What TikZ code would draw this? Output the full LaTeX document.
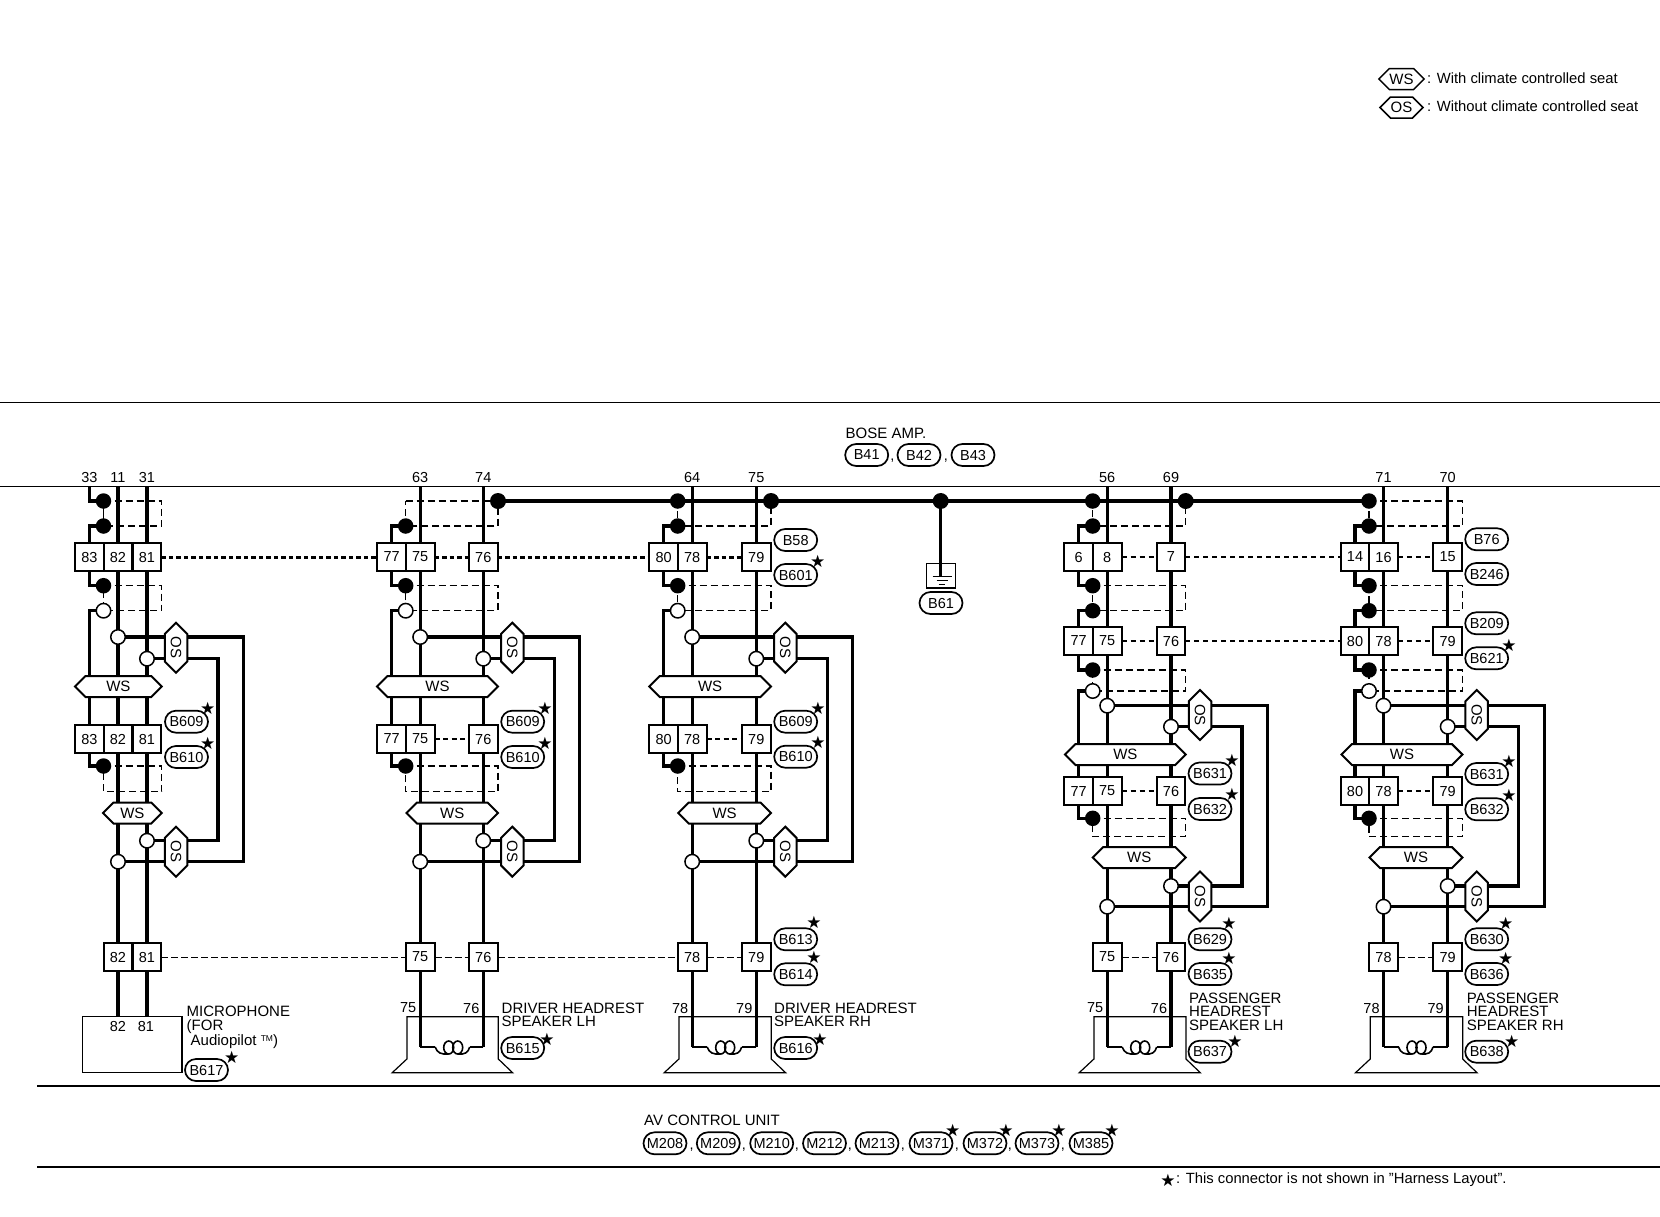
\documentclass[tikz,border=0pt]{standalone}
\usepackage{fontspec}
\setmainfont{Liberation Sans}
\newfontfamily\symfont{DejaVu Sans}
\usetikzlibrary{shapes.misc,shapes.symbols}
\pgfdeclarelayer{bg}\pgfsetlayers{bg,main}
\tikzset{
  wire/.style={line width=3.2pt,line join=miter},
  shield/.style={line width=1.5pt,dash pattern=on 7pt off 4pt},
  hairline/.style={line width=1.2pt},
  rule/.style={line width=0.9pt},
  dotthick/.style={line width=3pt,dash pattern=on 4.5pt off 3pt},
  dotmid/.style={line width=2.2pt,dash pattern=on 5pt off 3.5pt},
  dotthin/.style={line width=1.6pt,dash pattern=on 5pt off 4pt},
  dotfine/.style={line width=1pt,dash pattern=on 7pt off 3pt},
  bdot/.style={circle,fill=black,inner sep=0pt,minimum size=15.5pt},
  bigdot/.style={circle,fill=black,inner sep=0pt,minimum size=16pt},
  wdot/.style={circle,draw,fill=white,line width=1.5pt,inner sep=0pt,minimum size=14.5pt},
  hiddenpt/.style={coordinate},
  cell/.style={rectangle,draw,fill=white,line width=2pt,inner sep=0pt,outer sep=0pt,minimum width=28.6pt,minimum height=28pt,font=\fontsize{14.5}{14.5}\selectfont},
  hexws/.style={signal,signal to=west and east,signal pointer angle=90,draw,fill=white,line width=2pt,inner sep=0pt,outer sep=0pt,minimum height=21pt,font=\fontsize{15}{15}\selectfont},
  hexos/.style={hexws,rotate=-90,minimum width=50pt,minimum height=22.5pt},
  hexleg/.style={hexws,line width=1.5pt,minimum width=43pt,minimum height=21pt},
  badge/.style={rounded rectangle,draw,fill=white,line width=1.7pt,inner sep=0pt,minimum width=43pt,minimum height=22pt,font=\fontsize{14.5}{14.5}\selectfont},
  starmark/.style={inner sep=0pt,font=\symfont\fontsize{17}{17}\selectfont},
  num/.style={inner sep=0pt,font=\fontsize{14.5}{14.5}\selectfont},
  lbl/.style={inner sep=0pt,anchor=base west,font=\fontsize{15}{15}\selectfont},
  leg/.style={inner sep=0pt,anchor=west,font=\fontsize{14.8}{14.8}\selectfont},
}
\newcommand\setblock[3]{\def\bP{#1}\def\bL{#2}\def\bR{#3}%
  \pgfmathsetmacro\bM{#2+28.5}\pgfmathsetmacro\bD{#2+14}\pgfmathsetmacro\bE{#3+14.7}%
  \pgfmathsetmacro\bO{#3+29}\pgfmathsetmacro\bI{#3+71}\pgfmathsetmacro\bU{#3+96.5}}
\newcommand\shieldpair[6]{%
  \node[#3] (\bP-#1) at (\bD,#2) {};
  \node[#6] (\bP-#4) at (\bD,#5) {};
  \coordinate (\bP-#1e) at (\bE,#2);
  \coordinate (\bP-#4e) at (\bE,#5);
  \begin{pgfonlayer}{bg}
  \draw[shield] (\bP-#1.center) -- (\bP-#1e) -- (\bP-#4e) -- (\bP-#4.center) -- cycle;
  \end{pgfonlayer}}
\newcommand\rowcells[5]{%
  \node[cell] (\bP-#1-L) at (\bL,#2) {#3};
  \node[cell] (\bP-#1-M) at (\bM,#2) {#4};
  \node[cell] (\bP-#1-R) at (\bR,#2) {#5};}
\newcommand\rowtwo[4]{%
  \node[cell] (\bP-#1-M) at (\bM,#2) {#3};
  \node[cell] (\bP-#1-R) at (\bR,#2) {#4};}
\newcommand\wshex[3]{%
  \pgfmathsetmacro\tmpw{\bE-#3}\pgfmathsetmacro\tmpc{(\bE+#3)/2}%
  \node[hexws,minimum width=\tmpw pt] (\bP-#1) at (\tmpc,#2) {WS};}
\newcommand\bridge[6]{%
  \node[wdot] (\bP-wm1) at (\bM,#1) {};
  \node[wdot] (\bP-wr1) at (\bR,#2) {};
  \node[hexos] (\bP-os1) at (\bO,#3) {OS};
  \node[wdot] (\bP-wm2) at (\bM,#4) {};
  \node[wdot] (\bP-wr2) at (\bR,#5) {};
  \node[hexos] (\bP-os2) at (\bO,#6) {OS};
  \coordinate (\bP-ou1) at (\bU,#1);
  \coordinate (\bP-ou2) at (\bU,#4);
  \coordinate (\bP-in1) at (\bI,#2);
  \coordinate (\bP-in2) at (\bI,#5);
  \begin{pgfonlayer}{bg}
  \draw[wire] (\bP-wm1.center) -- (\bP-ou1) -- (\bP-ou2) -- (\bP-wm2.center);
  \draw[wire] (\bP-wr1.center) -- (\bP-in1) -- (\bP-in2) -- (\bP-wr2.center);
  \end{pgfonlayer}}
\newcommand\stubs[3]{% dot above row, row, dot below row
  \begin{pgfonlayer}{bg}
  \draw[wire] (\bP-#1.center) -| (\bP-#2-L.center);
  \draw[wire] (\bP-#2-L.center) |- (\bP-#3.center);
  \end{pgfonlayer}}
\newcommand\mainwires[4]{% top labels, bottom y
  \coordinate (\bP-tM) at (\bM,486);
  \coordinate (\bP-tR) at (\bR,486);
  \coordinate (\bP-eM) at (\bM,#3);
  \coordinate (\bP-eR) at (\bR,#4);
  \node[num] (\bP-lM) at (\bM,478) {#1};
  \node[num] (\bP-lR) at (\bR,478) {#2};
  \begin{pgfonlayer}{bg}
  \draw[wire] (\bP-tM) -- (\bP-eM);
  \draw[wire] (\bP-tR) -- (\bP-eR);
  \end{pgfonlayer}}
\newcommand\speaker[2]{%
  \pgfmathsetmacro\su{\bM}\pgfmathsetmacro\sl{\bM-13.3}\pgfmathsetmacro\sr{\bR+15}%
  \node[num] (\bP-pM) at (\bM-12,1008) {#1};
  \node[num] (\bP-pR) at (\bR-12,1008) {#2};
  \draw[hairline] (\sl,1016.7) -- (\sl,1059) -- (\sl-14.7,1072.7) -- (\sr+14.3,1072.7) -- (\sr,1059) -- (\sr,1016.7) -- cycle;
  \draw[line width=2.2pt] (\bP-eM) -- (\su+15,1047);
  \draw[line width=2.2pt] (\bP-eR) -- (\su+49.5,1047);
  \draw[line width=1.6pt] (\su+15,1047) .. controls (\su+17,1053) and (\su+21,1054.5) .. (\su+28,1054);
  \draw[line width=1.6pt] (\su+38,1054) .. controls (\su+44,1054.5) and (\su+48,1053) .. (\su+49.5,1047);
  \draw[line width=1.6pt] (\su+28.5,1047.5) ellipse (5 and 6.5);
  \draw[line width=1.6pt] (\su+37.5,1047.5) ellipse (5 and 6.5);}
\newcommand\bdg[4]{\node[badge] (#1) at (#2,#3) {#4};}
\newcommand\stm[3]{\node[starmark] (#1) at (#2,#3) {★};}
\begin{document}
\begin{tikzpicture}[x=1pt,y=-1pt]
\useasboundingbox (0,0) rectangle (1660,1216);
\begin{pgfonlayer}{bg}
\fill[white] (0,0) rectangle (1660,1216);
\end{pgfonlayer}
% rules
\draw[rule] (0,402) coordinate (ruleA) -- (1660,402) coordinate (ruleB);
\draw[rule] (0,486) coordinate (ruleC) -- (1660,486) coordinate (ruleD);
\draw[line width=1.4pt] (37,1086) coordinate (ruleE) -- (1660,1086) coordinate (ruleF);
\draw[line width=2pt] (37,1167) coordinate (ruleG) -- (1660,1167) coordinate (ruleH);
% legend
\node[hexleg] (legWS) at (1401.5,79) {WS};
\node[hexleg] (legOS) at (1401.5,107.5) {OS};
\node[leg] (legT1) at (1427,78) {: With climate controlled seat};
\node[leg] (legT2) at (1427,106.5) {: Without climate controlled seat};
% Bose amp
\node[lbl] (bose) at (845.5,438) {BOSE AMP.};
\bdg{B41}{866.7}{455}{B41}
\bdg{B42}{919}{455}{B42}
\bdg{B43}{973}{455}{B43}
\node[num,anchor=base] (cmA) at (892.5,460) {,};
\node[num,anchor=base] (cmB) at (946,460) {,};
% ------------ microphone block
\setblock{mic}{89.5}{147}
\shieldpair{d1}{501}{bdot}{d2}{526}{bdot}
\rowcells{r1}{557}{83}{82}{81}
\shieldpair{d3}{585.7}{bdot}{d4}{610.7}{wdot}
\wshex{ws1}{686.5}{75}
\rowcells{r2}{739}{83}{82}{81}
\shieldpair{d5}{766}{bdot}{d6}{791.7}{hiddenpt}
\wshex{ws2}{813}{103}
\bridge{637}{658.7}{647.7}{861.7}{840.7}{851.7}
\rowtwo{r3}{957}{82}{81}
\mainwires{11}{31}{1017}{1017}
\coordinate (mic-tL) at (\bL,486);
\node[num] (mic-lL) at (\bL,478) {33};
\stubs{d2}{r1}{d3}
\stubs{d4}{r2}{d5}
\begin{pgfonlayer}{bg}
\draw[wire] (mic-tL) |- (mic-d1.center);
\draw[hairline] (mic-d1.center) -- (mic-d2.center);
\end{pgfonlayer}
\node[rectangle,draw,hairline,inner sep=0pt,minimum width=99.3pt,minimum height=56pt] (micbox) at (132.35,1044.7) {};
\node[num] (mic-pM) at (118,1026) {82};
\node[num] (mic-pR) at (146,1026) {81};
\node[lbl] (micT1) at (186.5,1016.7) {MICROPHONE};
\node[lbl] (micT2) at (186.5,1030.7) {(FOR};
\node[lbl] (micT3) at (190.5,1045) {Audiopilot \raisebox{4pt}{\fontsize{8.5}{8.5}\selectfont TM})};
\bdg{mic-B609}{186.5}{721.7}{B609}\stm{mic-s1}{207.7}{708}
\bdg{mic-B610}{186.5}{757}{B610}\stm{mic-s2}{207.7}{743}
\bdg{B617}{206.5}{1070}{B617}\stm{mic-s3}{231.7}{1057.7}
% ------------ driver LH
\setblock{b2}{391.7}{483.3}
\shieldpair{d1}{501}{hiddenpt}{d2}{526}{bdot}
\node[bigdot] (b2-dE) at (\bE,501) {};
\rowcells{r1}{557}{77}{75}{76}
\shieldpair{d3}{585.7}{bdot}{d4}{610.7}{wdot}
\wshex{ws1}{686.5}{377}
\rowcells{r2}{739}{77}{75}{76}
\shieldpair{d5}{766}{bdot}{d6}{791.7}{hiddenpt}
\wshex{ws2}{813}{406.5}
\bridge{637}{658.7}{647.7}{861.7}{840.7}{851.7}
\rowtwo{r3}{957}{75}{76}
\mainwires{63}{74}{1047}{1047}
\stubs{d2}{r1}{d3}
\stubs{d4}{r2}{d5}
\speaker{75}{76}
\bdg{b2-B609}{522.7}{721.7}{B609}\stm{b2-s1}{545}{708}
\bdg{b2-B610}{522.7}{757}{B610}\stm{b2-s2}{545}{743}
\node[lbl] (b2T1) at (501.5,1013) {DRIVER HEADREST};
\node[lbl] (b2T2) at (501.5,1026.7) {SPEAKER LH};
\bdg{B615}{522.7}{1048}{B615}\stm{b2-s3}{547}{1039}
% ------------ driver RH
\setblock{b3}{663.7}{756.3}
\shieldpair{d1}{501}{bdot}{d2}{526}{bdot}
\node[bigdot] (b3-dE) at (\bE,501) {};
\rowcells{r1}{557}{80}{78}{79}
\shieldpair{d3}{585.7}{bdot}{d4}{610.7}{wdot}
\wshex{ws1}{686.5}{649.3}
\rowcells{r2}{739}{80}{78}{79}
\shieldpair{d5}{766}{bdot}{d6}{791.7}{hiddenpt}
\wshex{ws2}{813}{678.3}
\bridge{637}{658.7}{647.7}{861.7}{840.7}{851.7}
\rowtwo{r3}{957}{78}{79}
\mainwires{64}{75}{1047}{1047}
\stubs{d2}{r1}{d3}
\stubs{d4}{r2}{d5}
\speaker{78}{79}
\bdg{B58}{795.7}{540}{B58}
\bdg{B601}{795.7}{575}{B601}\stm{b3-s0}{817.7}{561.7}
\bdg{b3-B609}{795.7}{721.7}{B609}\stm{b3-s1}{818}{708.7}
\bdg{b3-B610}{795.7}{756.7}{B610}\stm{b3-s2}{818}{742.7}
\bdg{B613}{795.7}{939.3}{B613}\stm{b3-s3}{814}{922.7}
\bdg{B614}{795.7}{974.3}{B614}\stm{b3-s4}{814}{957.7}
\node[lbl] (b3T1) at (774,1013) {DRIVER HEADREST};
\node[lbl] (b3T2) at (774,1026.7) {SPEAKER RH};
\bdg{B616}{795.7}{1048}{B616}\stm{b3-s5}{820}{1039}
% ------------ ground
\node[bigdot] (g-dot) at (940.7,501) {};
\node[rectangle,draw,line width=1.5pt,inner sep=0pt,minimum width=28.6pt,minimum height=24.7pt] (g-box) at (941,575.7) {};
\coordinate (g-e) at (940.7,576.7);
\draw[wire] (g-dot.center) -- (g-e);
\draw[line width=1.5pt] (932.7,576.7) coordinate (g-a1) -- (952.3,576.7) coordinate (g-a2);
\draw[line width=1.3pt] (936.7,580.5) coordinate (g-b1) -- (948.3,580.5) coordinate (g-b2);
\draw[line width=1pt] (938.7,584.3) coordinate (g-c1) -- (945,584.3) coordinate (g-c2);
\bdg{B61}{941}{603}{B61}
% ------------ passenger LH
\setblock{b4}{1078.7}{1171}
\shieldpair{d1}{501}{bdot}{d2}{526}{bdot}
\node[bigdot] (b4-dE) at (\bE,501) {};
\rowcells{r1}{557}{6}{8}{7}
\shieldpair{d3}{585.7}{bdot}{d4}{610.7}{bdot}
\rowcells{r2}{641}{77}{75}{76}
\shieldpair{d5}{670}{bdot}{d6}{691}{wdot}
\wshex{ws1}{754.5}{1065}
\rowcells{r3}{791}{77}{75}{76}
\shieldpair{d7}{818.3}{bdot}{d8}{836.7}{hiddenpt}
\wshex{ws2}{857.5}{1092.7}
\bridge{705.7}{726.7}{715}{906.7}{886}{896.5}
\rowtwo{r4}{957}{75}{76}
\mainwires{56}{69}{1047}{1047}
\stubs{d2}{r1}{d3}
\stubs{d4}{r2}{d5}
\stubs{d6}{r3}{d7}
\speaker{75}{76}
\bdg{b4-B631}{1210}{773.5}{B631}\stm{b4-s1}{1232}{760}
\bdg{b4-B632}{1210}{809}{B632}\stm{b4-s2}{1232}{794}
\bdg{B629}{1210}{939.3}{B629}\stm{b4-s3}{1229}{923}
\bdg{B635}{1210}{974}{B635}\stm{b4-s4}{1229}{958}
\node[lbl] (b4T1) at (1189,1003) {PASSENGER};
\node[lbl] (b4T2) at (1189,1016.7) {HEADREST};
\node[lbl] (b4T3) at (1189,1030.7) {SPEAKER LH};
\bdg{B637}{1210}{1051.7}{B637}\stm{b4-s5}{1235}{1041.7}
% ------------ passenger RH
\setblock{b5}{1355}{1447.7}
\shieldpair{d1}{501}{bdot}{d2}{526}{bdot}
\rowcells{r1}{557}{14}{16}{15}
\shieldpair{d3}{585.7}{bdot}{d4}{610.7}{bdot}
\rowcells{r2}{641}{80}{78}{79}
\shieldpair{d5}{670}{bdot}{d6}{691}{wdot}
\wshex{ws1}{754.5}{1341.5}
\rowcells{r3}{791}{80}{78}{79}
\shieldpair{d7}{818.3}{bdot}{d8}{836.7}{hiddenpt}
\wshex{ws2}{857.5}{1369.5}
\bridge{705.7}{726.7}{715}{906.7}{886}{896.5}
\rowtwo{r4}{957}{78}{79}
\mainwires{71}{70}{1047}{1047}
\stubs{d2}{r1}{d3}
\stubs{d4}{r2}{d5}
\stubs{d6}{r3}{d7}
\speaker{78}{79}
\bdg{B76}{1486.7}{539.3}{B76}
\bdg{B246}{1486.7}{574}{B246}
\bdg{B209}{1486.7}{623.3}{B209}
\bdg{B621}{1486.7}{658.3}{B621}\stm{b5-s0}{1509}{645}
\bdg{b5-B631}{1486.7}{774}{B631}\stm{b5-s1}{1509}{761}
\bdg{b5-B632}{1486.7}{809.3}{B632}\stm{b5-s2}{1509}{795}
\bdg{B630}{1486.7}{939.3}{B630}\stm{b5-s3}{1505.7}{923.3}
\bdg{b5-B636}{1486.7}{974}{B636}\stm{b5-s4}{1505.7}{958}
\node[lbl] (b5T1) at (1466.7,1003) {PASSENGER};
\node[lbl] (b5T2) at (1466.7,1016.7) {HEADREST};
\node[lbl] (b5T3) at (1466.7,1030.7) {SPEAKER RH};
\bdg{B638}{1486.7}{1051.7}{B638}\stm{b5-s5}{1511.7}{1041.7}
% ------------ bus and cross links
\begin{pgfonlayer}{bg}
\draw[wire] (b2-dE.center) -- (b3-d1.center) -- (b3-dE.center) -- (g-dot.center) -- (b4-d1.center) -- (b4-dE.center) -- (b5-d1.center);
\end{pgfonlayer}
\draw[dotthick] (mic-r1-R.east) -- (b2-r1-L.west);
\draw[dotthick] (b2-r1-M.east) -- (b2-r1-R.west);
\draw[dotthick] (b2-r1-R.east) -- (b3-r1-L.west);
\draw[dotthick] (b3-r1-M.east) -- (b3-r1-R.west);
\draw[dotmid] (b2-r2-M.east) -- (b2-r2-R.west);
\draw[dotmid] (b3-r2-M.east) -- (b3-r2-R.west);
\draw[dotthin] (b4-r1-M.east) -- (b4-r1-R.west);
\draw[dotthin] (b4-r1-R.east) -- (b5-r1-L.west);
\draw[dotthin] (b5-r1-M.east) -- (b5-r1-R.west);
\draw[dotthin] (b4-r2-M.east) -- (b4-r2-R.west);
\draw[dotthin] (b4-r2-R.east) -- (b5-r2-L.west);
\draw[dotthin] (b5-r2-M.east) -- (b5-r2-R.west);
\draw[dotthin] (b4-r3-M.east) -- (b4-r3-R.west);
\draw[dotthin] (b5-r3-M.east) -- (b5-r3-R.west);
\draw[dotfine] (mic-r3-R.east) -- (b2-r3-M.west);
\draw[dotfine] (b2-r3-M.east) -- (b2-r3-R.west);
\draw[dotfine] (b2-r3-R.east) -- (b3-r3-M.west);
\draw[dotfine] (b3-r3-M.east) -- (b3-r3-R.west);
\draw[dotfine] (b4-r4-M.east) -- (b4-r4-R.west);
\draw[dotfine] (b5-r4-M.east) -- (b5-r4-R.west);
% ------------ AV control unit
\node[lbl] (av) at (644,1125.3) {AV CONTROL UNIT};
\bdg{M208}{665}{1143.3}{M208}
\bdg{M209}{718.3}{1143.3}{M209}
\bdg{M210}{771.7}{1143.3}{M210}
\bdg{M212}{824.5}{1143.3}{M212}
\bdg{M213}{877}{1143.3}{M213}
\bdg{M371}{931}{1143.3}{M371}\stm{av-s1}{952.7}{1130}
\bdg{M372}{985}{1143.3}{M372}\stm{av-s2}{1006}{1130}
\bdg{M373}{1037}{1143.3}{M373}\stm{av-s3}{1059}{1130}
\bdg{M385}{1091}{1143.3}{M385}\stm{av-s4}{1112}{1130}
\node[num,anchor=base] (c1) at (691.7,1149) {,};
\node[num,anchor=base] (c2) at (744,1149) {,};
\node[num,anchor=base] (c3) at (797,1149) {,};
\node[num,anchor=base] (c4) at (850,1149) {,};
\node[num,anchor=base] (c5) at (903,1149) {,};
\node[num,anchor=base] (c6) at (957,1149) {,};
\node[num,anchor=base] (c7) at (1010,1149) {,};
\node[num,anchor=base] (c8) at (1063,1149) {,};
% footnote
\stm{foot-s}{1168}{1180}
\node[leg] (foot) at (1176,1180) {: This connector is not shown in "Harness Layout".};
\end{tikzpicture}
\end{document}
